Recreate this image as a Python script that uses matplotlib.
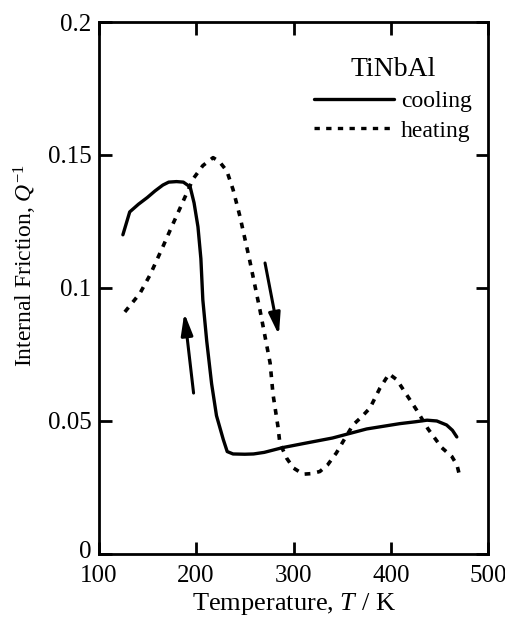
import matplotlib
matplotlib.use("Agg")
import matplotlib.pyplot as plt
import matplotlib.transforms as mtransforms

plt.rcParams['font.family'] = ['Liberation Serif', 'DejaVu Serif']
plt.rcParams['mathtext.fontset'] = 'custom'
plt.rcParams['mathtext.it'] = 'Liberation Serif:italic'
plt.rcParams['mathtext.rm'] = 'Liberation Serif'

# cooling curve (solid)
cool_T = [125, 132, 141, 150, 158, 166, 172, 180, 187, 194, 198, 202, 205, 207, 211, 216, 221,
          228, 232, 238, 250, 259, 270, 289, 310, 340, 375, 409, 425, 437, 447, 457, 463, 467.5]
cool_Q = [0.120, 0.1286, 0.1315, 0.134, 0.1365, 0.1387, 0.1398, 0.140, 0.1398, 0.138, 0.132, 0.123,
          0.111, 0.0955, 0.080, 0.064, 0.052, 0.043, 0.0385, 0.0376, 0.0375, 0.0376, 0.0382, 0.040,
          0.0415, 0.0436, 0.047, 0.049, 0.0497, 0.0503, 0.050, 0.0485, 0.0465, 0.044]

# heating curve (dotted)
heat_T = [127, 142.5, 153, 166, 175, 183.6, 197, 207, 217.5, 224, 231.6, 238, 245, 255, 265.6, 276,
          279, 284, 286, 293, 300, 310, 318, 327, 335, 344, 352, 361, 370, 378.5, 388.7, 398, 406,
          414, 426.5, 438, 452, 462.5, 467.7, 470]
heat_Q = [0.091, 0.098, 0.105, 0.1155, 0.123, 0.130, 0.141, 0.146, 0.149, 0.1475, 0.144, 0.137,
          0.127, 0.1105, 0.0917, 0.0718, 0.0600, 0.048, 0.0417, 0.036, 0.0323, 0.030, 0.0302, 0.031,
          0.0335, 0.038, 0.043, 0.0485, 0.0516, 0.0549, 0.0624, 0.0677, 0.0655, 0.061, 0.054, 0.047,
          0.040, 0.0366, 0.0334, 0.030]

# arrows: (tail, tip)
arrow_up = ((197.5, 0.0605), (188, 0.0906))
arrow_down = ((270.8, 0.1094), (285, 0.0823))

fig = plt.figure(figsize=(5.06, 6.18), dpi=100)
ax = fig.add_axes([0.1947, 0.1036, 0.7707, 0.8608])

ax.plot(cool_T, cool_Q, color='black', lw=2.4, solid_capstyle='round', label='cooling')
ax.plot(heat_T, heat_Q, color='black', lw=2.6, linestyle=(0, (1.6, 1.9)), label='heating')

for tail, tip in (arrow_up, arrow_down):
    ax.annotate('', xy=tip, xytext=tail,
                arrowprops=dict(arrowstyle='-|>,head_length=1.3,head_width=0.35',
                                color='black', lw=2.2, shrinkA=0, shrinkB=0))

ax.set_xlim(100, 500)
ax.set_ylim(0, 0.2)
ax.set_xticks([100, 200, 300, 400, 500])
ax.set_yticks([0, 0.05, 0.1, 0.15, 0.2])
ax.set_yticklabels(['0', '0.05', '0.1', '0.15', '0.2'])
ax.tick_params(direction='in', length=9, width=2, top=True, right=True, labelsize=18)
ax.tick_params(axis='x', pad=8)
ax.tick_params(axis='y', pad=5)
for s in ax.spines.values():
    s.set_linewidth(2)

# nudge the "0" label up a little so it clears the "100" below it
lab0 = ax.get_yticklabels()[0]
lab0.set_transform(lab0.get_transform() + mtransforms.ScaledTranslation(0, 4 / 100, fig.dpi_scale_trans))

ax.set_xlabel('Temperature, $\\mathit{T}$ / K', fontsize=19, labelpad=3)
ax.set_ylabel('Internal Friction, $\\mathit{Q}^{\\mathregular{-1}}$', fontsize=17)
ax.yaxis.set_label_coords(-0.152, 0.543)

leg = ax.legend(loc='upper right', bbox_to_anchor=(1.0, 0.965), frameon=False, fontsize=17,
                title='TiNbAl', title_fontsize=20, handlelength=3.4, handletextpad=0.3,
                labelspacing=0.35, borderaxespad=0.3)
for line in leg.get_lines():
    line.set_linewidth(2.4)

fig.savefig('out.png', dpi=100)
